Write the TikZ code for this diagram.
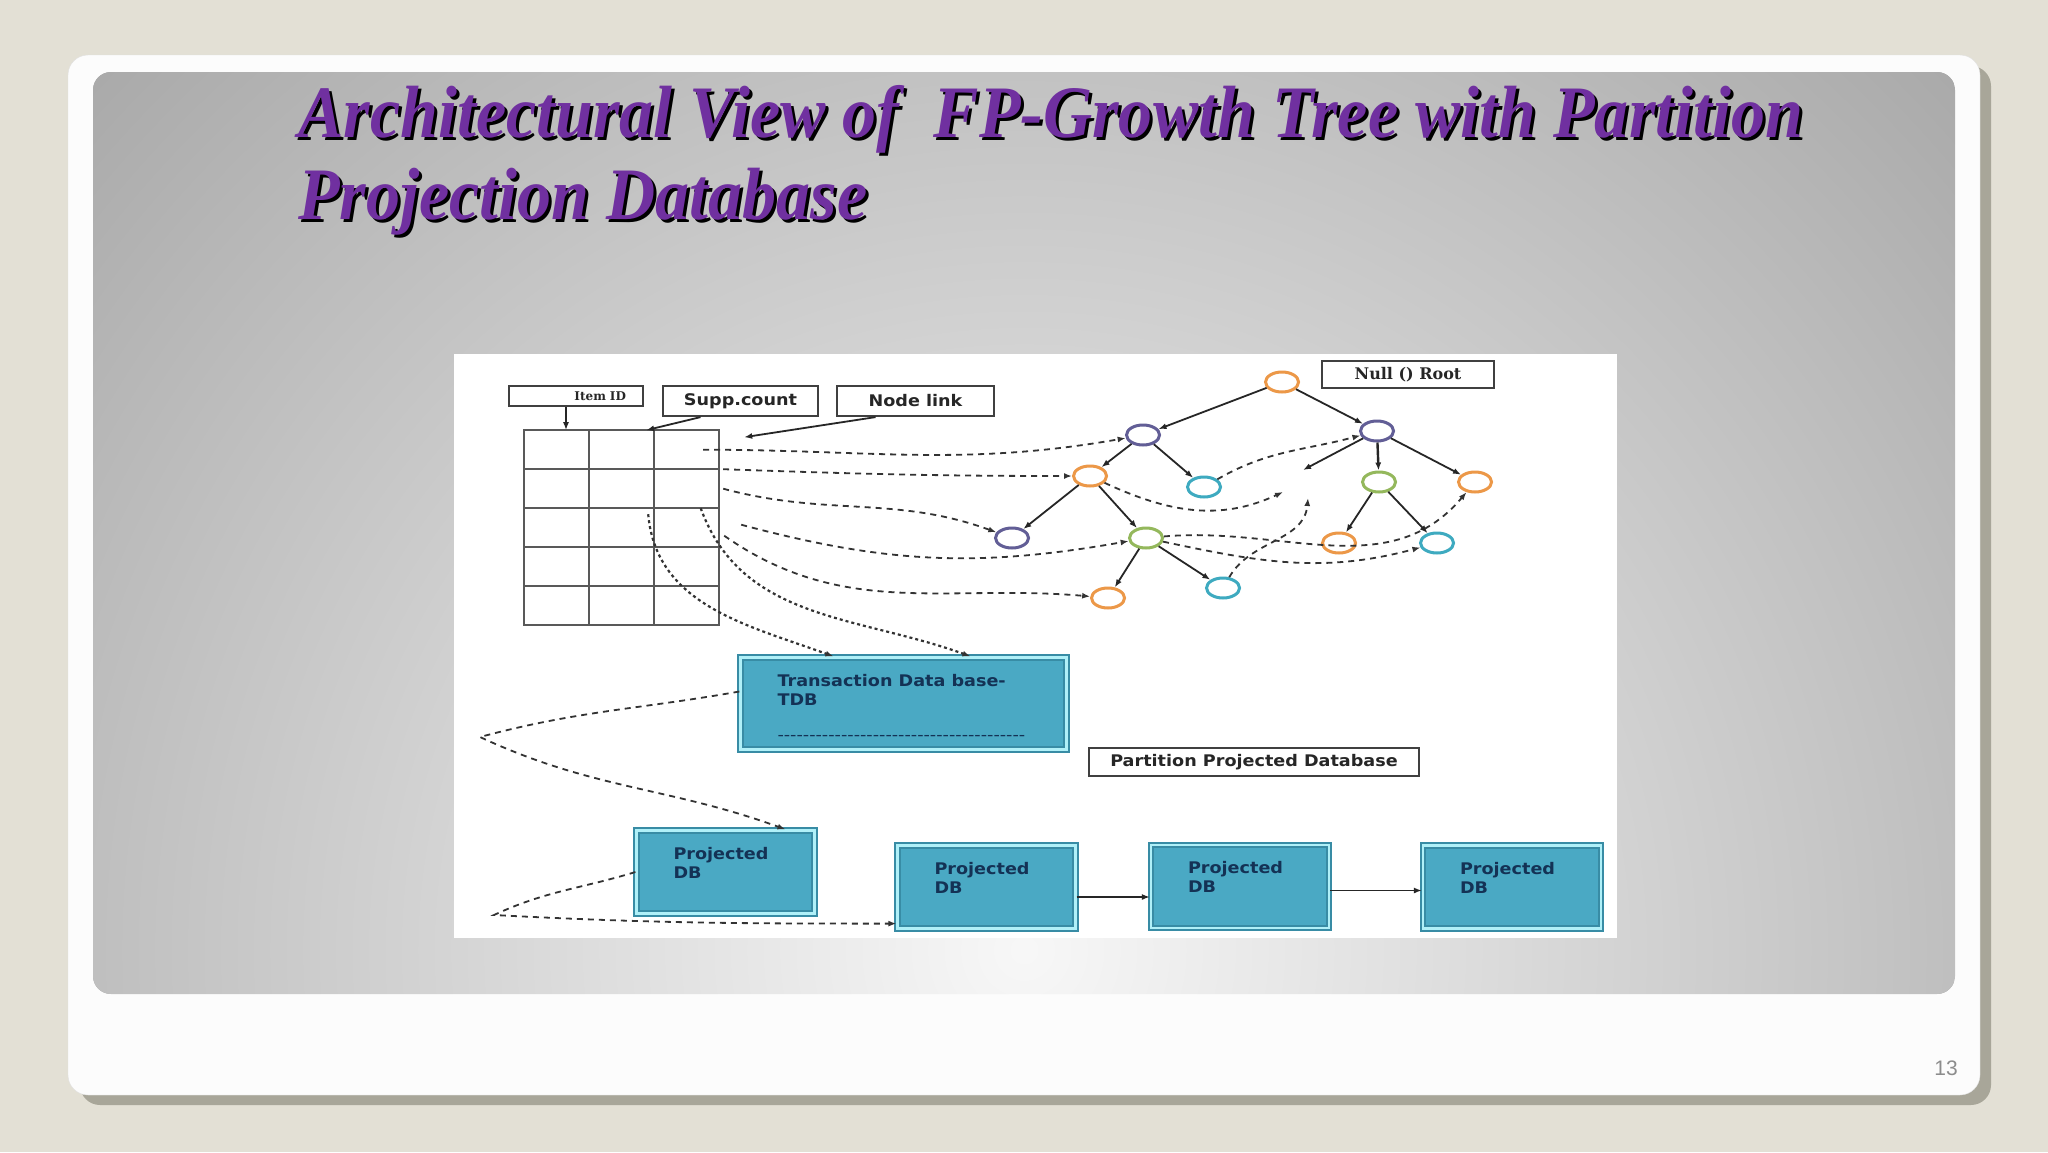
\documentclass[tikz,border=0pt]{standalone}
\usepackage{fontspec}
\usepackage{tikz}
\usetikzlibrary{matrix,arrows.meta,shapes.geometric}
\newfontfamily\titlefont{Liberation Serif}[FakeStretch=0.92]
\newfontfamily\boxfont{DejaVu Sans}[FakeStretch=1.1]
\newfontfamily\rootfont{DejaVu Serif}
\newfontfamily\pagefont{Liberation Sans}
\definecolor{pagebg}{RGB}{227,224,213}
\definecolor{cardshadow}{RGB}{168,166,153}
\definecolor{titlepurple}{RGB}{112,48,160}
\definecolor{dbfill}{RGB}{74,169,196}
\definecolor{dbedge}{RGB}{56,140,165}
\definecolor{dbline}{RGB}{176,240,248}
\definecolor{dbtext}{RGB}{20,50,85}
\definecolor{fporange}{RGB}{236,152,72}
\definecolor{fppurple}{RGB}{98,94,150}
\definecolor{fpcyan}{RGB}{62,170,192}
\definecolor{fpgreen}{RGB}{148,184,92}
\newcommand{\projdb}{\parbox[c][50pt][t]{104pt}{Projected\\DB}}
\newcommand{\dashrow}{{\mdseries\foreach \i in {1,...,39}{-}}}

\begin{document}
\begin{tikzpicture}[x=1pt,y=-1pt,
  lbl/.style={draw = black!75, line width=2.2, fill=white, inner sep=0, text=black!85,
    font=\boxfont\bfseries\fontsize{16}{19}\selectfont},
  dbbox/.style={draw = dbedge, double = dbline, double distance=2.5, line width=2.2, fill=dbfill,
    inner xsep=37, inner ysep=16.5, text=dbtext, font=\boxfont\bfseries\fontsize{16}{19}\selectfont},
  fp/.style={ellipse, draw, fill=white, line width=3, minimum width=33, minimum height=20, inner sep=0},
  tedge/.style={draw = black!85, line width=1.8, -{Latex[length=8pt,width=6pt]}},
  link/.style={draw = black!80, line width=1.8, dash pattern=on 6pt off 5pt, -{Latex[length=8pt,width=6pt]}},
  dotlink/.style={draw = black!80, line width=2.2, dash pattern=on 3pt off 3pt, -{Latex[length=8pt,width=6pt]}},
  ttl/.style={anchor=base west, inner sep=0, font=\titlefont\bfseries\itshape\fontsize{74}{80}\selectfont}]
\useasboundingbox (0,0) rectangle (2048,1152);
\fill[pagebg] (0,0) rectangle (2048,1152);
\fill[cardshadow, rounded corners=20] (80,66) rectangle (1991,1105);
\filldraw[fill = white!99!black, draw = black!12, rounded corners=20] (68,55) rectangle (1980,1095);
\begin{scope}
\clip[rounded corners=18] (93,72) rectangle (1955,994);
\fill[gray!68] (93,72) rectangle (1955,994);
\shade[inner color=gray!6, outer color=gray!68] (1024,950) ellipse [x radius=1300, y radius=1300];
\end{scope}
\fill[white] (454,354) rectangle (1617,938);

\node[ttl, text = black] (ttlshadea) at (301,140) {Architectural View of\ \ FP-Growth Tree with Partition};
\node[ttl, text = titlepurple] (ttla) at (298,137) {Architectural View of\ \ FP-Growth Tree with Partition};
\node[ttl, text = black] (ttlshadeb) at (301,222) {Projection Database};
\node[ttl, text = titlepurple] (ttlb) at (298,219) {Projection Database};

\matrix (m) [matrix of nodes, nodes in empty cells, anchor=north west, inner sep=0, column sep=-2, row sep=-2,
  nodes={draw = black!65, line width=2, minimum width=65, minimum height=39, inner sep=0, outer sep=0}] at (523,429)
{
 & & \\
 & & \\
 & & \\
 & & \\
 & & \\
};

\node[lbl, minimum width=134, minimum height=20, text width=100, align=right, inner xsep=17,
  font=\rootfont\bfseries\fontsize{12}{14}\selectfont] (itemid) at (576,396) {Item ID};
\node[lbl, minimum width=155, minimum height=30] (supp) at (740.5,401) {Supp.count};
\node[lbl, minimum width=157, minimum height=30] (nlink) at (915.5,401) {Node link};
\node[lbl, minimum width=172, minimum height=27, font=\rootfont\bfseries\fontsize{16}{18}\selectfont] (nullroot) at (1408,374.5) {Null () Root};
\node[lbl, minimum width=330, minimum height=28] (ppd) at (1254,762) {Partition Projected Database};

\node[fp, draw = fporange] (t0) at (1282,382) {};
\node[fp, draw = fppurple] (t1) at (1143,435) {};
\node[fp, draw = fppurple] (t2) at (1377,431) {};
\node[fp, draw = fporange] (t3) at (1090,476) {};
\node[fp, draw = fpcyan] (t4) at (1204,487) {};
\node[fp, draw = fpgreen] (t5) at (1379,482) {};
\node[fp, draw = fporange] (t6) at (1475,482) {};
\node[fp, draw = fppurple] (t7) at (1012,538) {};
\node[fp, draw = fpgreen] (t8) at (1146,538) {};
\node[fp, draw = fporange] (t9) at (1339,543) {};
\node[fp, draw = fpcyan] (t10) at (1437,543) {};
\node[fp, draw = fporange] (t11) at (1108,598) {};
\node[fp, draw = fpcyan] (t12) at (1223,588) {};
\coordinate (gapa) at (1283,492);
\coordinate (gapb) at (1303,470);
\coordinate (gapc) at (1308,498);

\node[dbbox] (tdb) at (903.5,703.5) {\parbox[c][59pt][t]{252pt}{Transaction Data base-\\TDB\\[16pt]\dashrow}};
\node[dbbox] (pdb1) at (725.5,872) {\projdb};
\node[dbbox] (pdb2) at (986.5,887) {\projdb};
\node[dbbox] (pdb3) at (1240,886.5) {\projdb};
\node[dbbox] (pdb4) at (1512,887) {\projdb};
\coordinate (tdbbend) at (480,737);
\coordinate (pdbbend) at (494,915);

\node[font=\pagefont\fontsize{21}{24}\selectfont, text = black!45] (pgnum) at (1946,1068) {13};

\draw[tedge] ([xshift=-10]itemid.south) -- ([xshift=-10]itemid.south |- m-1-1.north);
\draw[tedge] ([xshift=-40]supp.south) -- ([xshift=-8]m-1-2.north east);
\draw[tedge] ([xshift=-40]nlink.south) -- ([xshift=25,yshift=-7]m-1-3.north east);

\draw[tedge] (t0) -- (t1);
\draw[tedge] (t0) -- (t2);
\draw[tedge] (t1) -- (t3);
\draw[tedge] (t1) -- (t4);
\draw[tedge] (t2) -- (gapb);
\draw[tedge, line width=2.4] (t2) -- (t5);
\draw[tedge] (t2) -- (t6);
\draw[tedge] (t3) -- (t7);
\draw[tedge] (t3) -- (t8);
\draw[tedge] (t5) -- (t9);
\draw[tedge] (t5) -- (t10);
\draw[tedge] (t8) -- (t11);
\draw[tedge] (t8) -- (t12);

\draw[link] ([xshift=-16]m-1-3.east) to[out=0,in=190] (t1);
\draw[link] ([xshift=4]m-2-3.north east) to[out=-2,in=180] (t3);
\draw[link] ([xshift=4]m-2-3.east) to[out=-15,in=160] (t7);
\draw[link] ([xshift=22,yshift=3]m-3-3.east) to[out=-15,in=190] (t8);
\draw[link] ([xshift=5,yshift=-8]m-3-3.east) to[out=-35,in=175] (t11);
\draw[dotlink] ([xshift=14]m-3-3.north) to[out=-70,in=160] ([xshift=67]tdb.north);
\draw[dotlink] ([xshift=-6,yshift=-6]m-3-2.north east) to[out=-85,in=160] ([xshift=-70]tdb.north);

\draw[link] (t4) to[out=30,in=195] (t2);
\draw[link] (t3) to[out=-25,in=205] (gapa);
\draw[link] (t8) to[out=5,in=230] (t6);
\draw[link] (t8) to[out=-12,in=195] (t10);
\draw[link] (t12) to[out=60,in=-95] (gapc);

\draw[link] ([yshift=12]tdb.west) to[out=190,in=15] (tdbbend) to[out=-25,in=160] ([xshift=60]pdb1.north);
\draw[link] (pdb1.west) to[out=197,in=25] (pdbbend) to[out=-3,in=180] ([yshift=6]pdb2.south west);
\draw[tedge] ([yshift=-10]pdb2.east) -- ([yshift=-10]pdb2.east -| pdb3.west);
\draw[tedge] ([yshift=-4]pdb3.east) -- ([yshift=-4]pdb3.east -| pdb4.west);
\end{tikzpicture}
\end{document}
